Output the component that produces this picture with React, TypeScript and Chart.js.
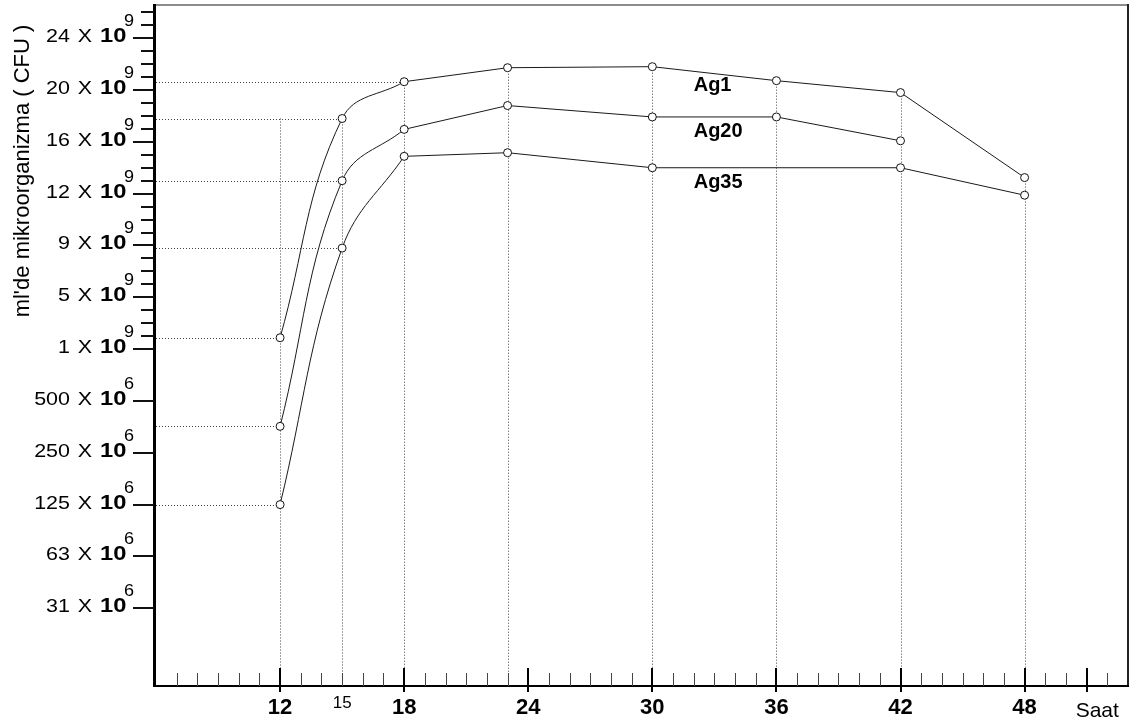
import React, { useEffect, useRef } from 'react';
import { Chart, registerables } from 'chart.js';

Chart.register(...registerables);

// Sampling hours of each culture
const hoursAg1 = [12, 15, 18, 23, 30, 36, 42, 48];
const hoursAg20 = [12, 15, 18, 23, 30, 36, 42];
const hoursAg35 = [12, 15, 18, 23, 30, 42, 48];

// Counts as positions on the stepped count axis (0 = 31 x 10^6 ... 11 = 24 x 10^9)
const ag1 = [5.22, 9.45, 10.16, 10.43, 10.45, 10.18, 9.95, 8.31];
const ag20 = [3.51, 8.25, 9.24, 9.7, 9.48, 9.48, 9.02];
const ag35 = [2.0, 6.95, 8.72, 8.79, 8.5, 8.5, 7.97];

const seriesNames = ['Ag1', 'Ag20', 'Ag35'];

// Hours whose reading is carried to the count axis by a dotted guide, per series
const levelGuideHours = [[12, 15, 18], [12, 15], [12, 15]];

// The growth phase up to this hour is drawn as a smooth curve
const curvedUntilHour = 18;

// Hour placed under each series name
const seriesLabelHour = 32;

// Count axis: mantissa and power of ten of each step
const yMantissas = ['31', '63', '125', '250', '500', '1', '5', '9', '12', '16', '20', '24'];
const yExponents = ['6', '6', '6', '6', '6', '9', '9', '9', '9', '9', '9', '9'];
const yMinorFrom = 5; // minor ticks on the 10^9 part of the axis

// Hour axis
const xLabelHours = [12, 15, 18, 24, 30, 36, 42, 48, 51];
const xLabels = ['12', '15', '18', '24', '30', '36', '42', '48', 'Saat'];
const xMajorHours = [12, 18, 24, 30, 36, 42, 48, 51];

const FONT = '"Liberation Sans", Arial, Helvetica, sans-serif';
const LINE = '#1a1a1a';
const LABEL_STRETCH = 1.13; // count-axis lettering is set slightly wide

const series = [
  { name: seriesNames[0], hours: hoursAg1, values: ag1 },
  { name: seriesNames[1], hours: hoursAg20, values: ag20 },
  { name: seriesNames[2], hours: hoursAg35, values: ag35 },
];

function valueAt(hours: number[], values: number[], h: number): number | null {
  for (let i = 0; i < hours.length - 1; i++) {
    if (h >= hours[i] && h <= hours[i + 1]) {
      const t = (h - hours[i]) / (hours[i + 1] - hours[i]);
      return values[i] + t * (values[i + 1] - values[i]);
    }
  }
  return null;
}

function wideText(
  ctx: CanvasRenderingContext2D,
  text: string,
  x: number,
  y: number,
  font: string,
  align: CanvasTextAlign,
) {
  ctx.save();
  ctx.translate(x, y);
  ctx.scale(LABEL_STRETCH, 1);
  ctx.font = font;
  ctx.textAlign = align;
  ctx.fillText(text, 0, 0);
  ctx.restore();
}

const guidesPlugin = {
  id: 'guides',
  beforeDatasetsDraw(chart: any) {
    const { ctx, chartArea } = chart;
    const x = chart.scales.x;
    const y = chart.scales.y;
    ctx.save();
    ctx.strokeStyle = '#444';
    ctx.lineWidth = 1;
    ctx.setLineDash([1, 2]);

    // horizontal guides from the count axis to selected readings
    series.forEach((s, si) => {
      levelGuideHours[si].forEach((h) => {
        const idx = s.hours.indexOf(h);
        if (idx < 0) return;
        const py = Math.round(y.getPixelForValue(s.values[idx])) + 0.5;
        const px = x.getPixelForValue(h);
        ctx.beginPath();
        ctx.moveTo(chartArea.left, py);
        ctx.lineTo(px, py);
        ctx.stroke();
      });
    });

    // vertical guides from the highest reading of each hour down to the hour axis
    const allHours = Array.from(new Set(series.flatMap((s) => s.hours))).sort((a, b) => a - b);
    const topAt = (h: number) =>
      Math.max(...series.map((s) => {
        const i = s.hours.indexOf(h);
        return i < 0 ? -Infinity : s.values[i];
      }));
    allHours.forEach((h, i) => {
      // the first hour's guide reaches up to the next hour's top reading
      const top = i === 0 ? topAt(allHours[1]) : topAt(h);
      const px = Math.round(x.getPixelForValue(h)) + 0.5;
      ctx.beginPath();
      ctx.moveTo(px, y.getPixelForValue(top));
      ctx.lineTo(px, chartArea.bottom);
      ctx.stroke();
    });
    ctx.restore();
  },
};

const framePlugin = {
  id: 'frame',
  afterDatasetsDraw(chart: any) {
    const { ctx, chartArea } = chart;
    const x = chart.scales.x;
    const y = chart.scales.y;
    const { left, right, top, bottom } = chartArea;
    ctx.save();
    ctx.setLineDash([]);

    // frame
    ctx.strokeStyle = '#8c8c8c';
    ctx.lineWidth = 2;
    ctx.beginPath();
    ctx.moveTo(left - 3, top);
    ctx.lineTo(right, top);
    ctx.stroke();
    ctx.strokeStyle = '#222';
    ctx.beginPath();
    ctx.moveTo(right, top - 1);
    ctx.lineTo(right, bottom);
    ctx.stroke();
    ctx.strokeStyle = '#000';
    ctx.beginPath();
    ctx.moveTo(left - 3, bottom);
    ctx.lineTo(right + 1, bottom);
    ctx.stroke();
    ctx.lineWidth = 3;
    ctx.beginPath();
    ctx.moveTo(left - 1.5, top - 1);
    ctx.lineTo(left - 1.5, bottom + 1);
    ctx.stroke();

    // hour axis ticks
    const xMin = Math.ceil(x.min + 0.5);
    const xMax = Math.floor(x.max - 0.5);
    for (let h = xMin; h <= xMax; h++) {
      const major = xMajorHours.includes(h);
      const px = Math.round(x.getPixelForValue(h));
      ctx.beginPath();
      if (major) {
        ctx.strokeStyle = '#000';
        ctx.lineWidth = 2;
        ctx.moveTo(px, bottom - 18);
        ctx.lineTo(px, bottom + 6);
      } else {
        ctx.strokeStyle = '#444';
        ctx.lineWidth = 1;
        ctx.moveTo(px + 0.5, bottom - 13);
        ctx.lineTo(px + 0.5, bottom);
      }
      ctx.stroke();
    }

    // hour axis labels
    ctx.fillStyle = '#000';
    xLabelHours.forEach((h, i) => {
      const px = x.getPixelForValue(h);
      const text = xLabels[i];
      if (xMajorHours.includes(h) && /^\d+$/.test(text)) {
        ctx.font = `bold 22px ${FONT}`;
        ctx.textAlign = 'center';
        ctx.fillText(text, px, bottom + 28);
      } else if (/^\d+$/.test(text)) {
        ctx.font = `17px ${FONT}`;
        ctx.textAlign = 'center';
        ctx.fillText(text, px, bottom + 22);
      } else {
        ctx.font = `21px ${FONT}`;
        ctx.textAlign = 'left';
        ctx.fillText(text, px - 11, bottom + 31);
      }
    });

    // count axis ticks
    ctx.strokeStyle = '#111';
    ctx.lineWidth = 2;
    yMantissas.forEach((_, k) => {
      const py = Math.round(y.getPixelForValue(k));
      ctx.beginPath();
      ctx.moveTo(left - 23, py);
      ctx.lineTo(left - 2, py);
      ctx.stroke();
    });
    for (let k = yMinorFrom; k < yMantissas.length; k++) {
      [0.25, 0.5, 0.75].forEach((f) => {
        const v = k + f;
        if (v > y.max) return;
        const py = Math.round(y.getPixelForValue(v));
        if (py < top + 3) return;
        ctx.beginPath();
        ctx.moveTo(left - 15, py);
        ctx.lineTo(left - 2, py);
        ctx.stroke();
      });
    }

    // count axis labels: "24 X 10^9"
    yMantissas.forEach((m, k) => {
      const py = y.getPixelForValue(k);
      wideText(ctx, m, 70, py + 4, `19px ${FONT}`, 'right');
      wideText(ctx, 'X', 85, py + 4, `19px ${FONT}`, 'center');
      wideText(ctx, '10', 100, py + 4, `bold 21px ${FONT}`, 'left');
      wideText(ctx, yExponents[k], 124, py - 12, `16px ${FONT}`, 'left');
    });

    // count axis title
    ctx.save();
    ctx.translate(29, 171);
    ctx.rotate(-Math.PI / 2);
    ctx.font = `22px ${FONT}`;
    ctx.textAlign = 'center';
    ctx.fillText("ml'de mikroorganizma ( CFU )", 0, 0);
    ctx.restore();

    // series names under their lines
    ctx.font = `bold 20px ${FONT}`;
    ctx.textAlign = 'left';
    series.forEach((s) => {
      const v = valueAt(s.hours, s.values, seriesLabelHour);
      if (v === null) return;
      ctx.fillText(s.name, x.getPixelForValue(seriesLabelHour), y.getPixelForValue(v) + 20);
    });

    ctx.restore();
  },
};

function buildDatasets() {
  const sets: any[] = [];
  series.forEach((s) => {
    const pts = s.hours.map((h, i) => ({ x: h, y: s.values[i] }));
    sets.push({
      label: s.name + ' curve',
      data: pts.filter((p) => p.x <= curvedUntilHour),
      borderColor: LINE,
      borderWidth: 1,
      pointRadius: 0,
      tension: 0.4,
      fill: false,
      order: 2,
    });
    sets.push({
      label: s.name,
      data: pts,
      borderColor: LINE,
      borderWidth: 1,
      tension: 0,
      fill: false,
      pointRadius: 4,
      pointBackgroundColor: '#fff',
      pointBorderColor: '#111',
      pointBorderWidth: 1,
      order: 1,
      segment: {
        borderColor: (ctx: any) =>
          s.hours[ctx.p1DataIndex] <= curvedUntilHour ? 'rgba(0,0,0,0)' : LINE,
      },
    });
  });
  return sets;
}

export default function App() {
  const canvasRef = useRef<HTMLCanvasElement | null>(null);

  useEffect(() => {
    if (!canvasRef.current) return;
    const chart = new Chart(canvasRef.current, {
      type: 'line',
      data: { datasets: buildDatasets() },
      options: {
        animation: false,
        responsive: false,
        devicePixelRatio: 1,
        layout: { padding: { left: 156, right: 11, top: 3, bottom: 42 } },
        scales: {
          x: { type: 'linear', min: 6, max: 53, display: false },
          y: { type: 'linear', min: -1.5, max: 11.64, display: false },
        },
        plugins: {
          legend: { display: false },
          tooltip: { enabled: false },
        },
      },
      plugins: [guidesPlugin, framePlugin],
    } as any);
    return () => chart.destroy();
  }, []);

  return (
    <div style={{ position: 'fixed', left: 0, top: 0, width: 1139, height: 728, background: '#fff' }}>
      <canvas ref={canvasRef} width={1139} height={728} />
    </div>
  );
}
